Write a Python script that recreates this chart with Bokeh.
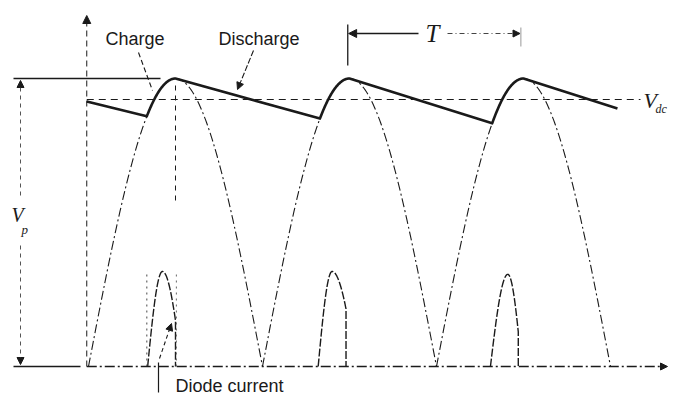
import numpy as np
from bokeh.plotting import figure
from bokeh.models import Range1d, Label, Arrow, NormalHead
from bokeh.embed import file_html
from bokeh.resources import INLINE

# ---- data (time in units of T, voltage in units of Vp) ----
arc_start = [0.0, 1.0, 2.0]          # rectified half-sine arcs
Vp = 1.0
Vdc = 0.927                          # average dc level
peak_t = [0.5, 1.5, 2.5]             # capacitor charged to peak
charge_t = [0.335, 1.33, 2.32]       # diode starts conducting
cap_start = [-0.01, 0.92]            # capacitor voltage at t=0
cap_end = [3.04, 0.896]              # end of last discharge
pulse_start = [0.34, 1.32, 2.31]     # diode current pulses
pulse_top_t = [0.425, 1.40, 2.41]
pulse_end = [0.5, 1.48, 2.47]
pulse_height = [0.33, 0.33, 0.32]
pulse_drop = [0.16, 0.20, 0.12]

# reference-picture helpers for annotation placement
def tx(X):
    return (X - 88) / 174.0

def vy(Y):
    return (366 - Y) / 288.0

p = figure(width=668, height=396, x_range=Range1d(tx(0), tx(668)),
           y_range=Range1d(vy(396), vy(0)), x_axis_type=None, y_axis_type=None,
           toolbar_location=None, output_backend="svg", min_border=0,
           outline_line_color=None, background_fill_color="white")
p.grid.visible = False

INK = "#1a1a1a"

# rectified sine arcs (dash-dot, thin)
for s in arc_start:
    t = np.linspace(s, s + 1.0, 200)
    p.line(t, Vp * np.sin(np.pi * (t - s)), line_color=INK, line_width=1.1,
           line_dash="9 3 2 3")

# capacitor voltage (thick)
xs = [cap_start[0]]
ys = [cap_start[1]]
for s, tc, tp in zip(arc_start, charge_t, peak_t):
    t = np.linspace(tc, tp, 60)
    xs.extend(t.tolist())
    ys.extend((Vp * np.sin(np.pi * (t - s))).tolist())
xs.append(cap_end[0])
ys.append(cap_end[1])
p.line(xs, ys, line_color=INK, line_width=2.6, line_join="round")

# diode current pulses
for ts, tp, te, h, hd in zip(pulse_start, pulse_top_t, pulse_end, pulse_height, pulse_drop):
    tr = np.linspace(ts, tp, 40)
    vr = h * np.sin(0.5 * np.pi * (tr - ts) / (tp - ts))
    phi = np.arccos(hd / h)
    tf = np.linspace(tp, te, 30)
    vf = h * np.cos(phi * (tf - tp) / (te - tp))
    px = tr.tolist() + tf.tolist() + [te]
    py = vr.tolist() + vf.tolist() + [0.0]
    p.line(px, py, line_color=INK, line_width=1.4, line_dash="8 2")

# Vdc level
p.line([cap_start[0], tx(640)], [Vdc, Vdc], line_color=INK, line_width=1.1,
       line_dash="7 5")

# Vp level line
p.line([tx(13), tx(160)], [Vp, Vp], line_color=INK, line_width=1.3)

# time axis
p.line([tx(13), tx(80)], [0, 0], line_color=INK, line_width=1.3)
p.add_layout(Arrow(end=NormalHead(size=7, fill_color=INK, line_color=INK),
                   x_start=cap_start[0], y_start=0, x_end=tx(667), y_end=0,
                   line_color=INK, line_width=1.3, line_dash="10 3 2 3"))
# voltage axis
p.add_layout(Arrow(end=NormalHead(size=8, fill_color=INK, line_color=INK),
                   x_start=cap_start[0], y_start=0, x_end=cap_start[0], y_end=vy(15),
                   line_color=INK, line_width=1.0, line_dash="6 4"))

# vertical marker through first peak
p.line([peak_t[0], peak_t[0]], [vy(200), vy(80)], line_color=INK, line_width=1.0,
       line_dash="5 5")
p.line([pulse_end[0] + 0.005, pulse_end[0] + 0.005], [0, vy(270)], line_color="#666",
       line_width=1.0, line_dash="2 4")
p.line([pulse_start[0] - 0.005, pulse_start[0] - 0.005], [0, vy(270)], line_color="#666",
       line_width=1.2, line_dash="2 4")

# Vp dimension arrows
p.add_layout(Arrow(end=NormalHead(size=7, fill_color=INK, line_color=INK),
                   x_start=tx(20), y_start=vy(195), x_end=tx(20), y_end=vy(80),
                   line_color="#555", line_width=1.0, line_dash="4 4"))
p.add_layout(Arrow(end=NormalHead(size=7, fill_color=INK, line_color=INK),
                   x_start=tx(20), y_start=vy(245), x_end=tx(20), y_end=vy(364),
                   line_color="#555", line_width=1.0, line_dash="4 4"))

# T period marker
p.line([peak_t[1] - 0.01, peak_t[1] - 0.01], [vy(65), vy(24)], line_color=INK, line_width=1.3)
p.line([peak_t[2] - 0.015, peak_t[2] - 0.015], [vy(46), vy(27)], line_color="#999", line_width=1.0)
p.add_layout(Arrow(end=NormalHead(size=8, fill_color=INK, line_color=INK),
                   x_start=tx(418), y_start=vy(33), x_end=peak_t[1] - 0.005, y_end=vy(33),
                   line_color=INK, line_width=1.3))
p.add_layout(Arrow(end=NormalHead(size=7, fill_color=INK, line_color=INK),
                   x_start=tx(447), y_start=vy(33), x_end=peak_t[2] - 0.02, y_end=vy(33),
                   line_color="#444", line_width=1.0, line_dash="5 3 1 3"))

# leaders
p.line([tx(138), tx(152)], [vy(52), vy(90)], line_color=INK, line_width=1.1, line_dash="5 3")
p.add_layout(Arrow(end=NormalHead(size=7, fill_color=INK, line_color=INK),
                   x_start=tx(253), y_start=vy(50), x_end=tx(237), y_end=vy(89),
                   line_color=INK, line_width=1.1, line_dash="6 2"))
p.line([tx(158), tx(158)], [vy(392), vy(362)], line_color=INK, line_width=1.2)
p.add_layout(Arrow(end=NormalHead(size=7, fill_color=INK, line_color=INK),
                   x_start=tx(159), y_start=vy(358), x_end=tx(171), y_end=vy(323),
                   line_color=INK, line_width=1.1, line_dash="4 3"))

# text labels
sans = "Liberation Sans"
serif = "Liberation Serif"
p.add_layout(Label(x=tx(105), y=vy(38), text="Charge", text_font=sans,
                   text_font_size="18px", text_baseline="middle", text_color=INK))
p.add_layout(Label(x=tx(218), y=vy(38), text="Discharge", text_font=sans,
                   text_font_size="18px", text_baseline="middle", text_color=INK))
p.add_layout(Label(x=tx(175), y=vy(385), text="Diode current", text_font=sans,
                   text_font_size="18px", text_baseline="middle", text_color=INK))
p.add_layout(Label(x=tx(432), y=vy(33), text="T", text_font=serif, text_font_style="italic",
                   text_font_size="25px", text_baseline="middle", text_align="center",
                   text_color=INK))
p.add_layout(Label(x=tx(11), y=vy(214), text="V", text_font=serif, text_font_style="italic",
                   text_font_size="20px", text_baseline="middle", text_color=INK))
p.add_layout(Label(x=tx(21), y=vy(229), text="p", text_font=serif, text_font_style="italic",
                   text_font_size="13px", text_baseline="middle", text_color=INK))
p.add_layout(Label(x=tx(643), y=vy(100), text="V", text_font=serif, text_font_style="italic",
                   text_font_size="22px", text_baseline="middle", text_color=INK))
p.add_layout(Label(x=tx(655), y=vy(108), text="dc", text_font=serif, text_font_style="italic",
                   text_font_size="12px", text_baseline="middle", text_color=INK))

open("out.html", "w").write(file_html(p, INLINE))
